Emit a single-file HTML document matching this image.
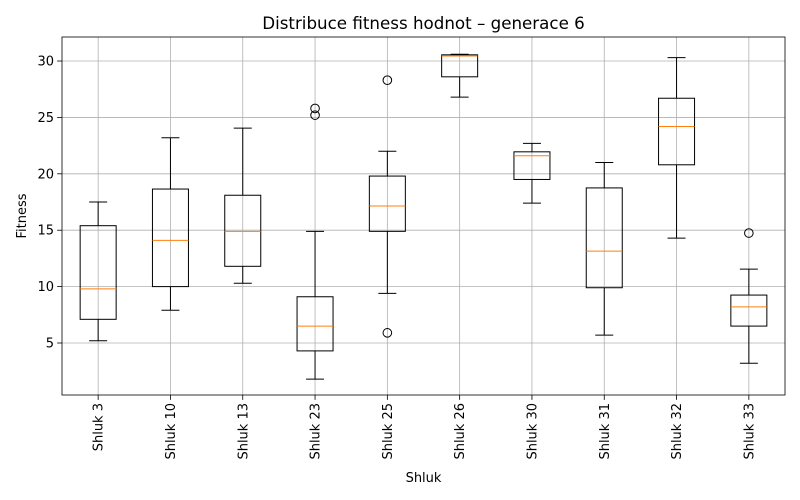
<!DOCTYPE html>
<html><head><meta charset="utf-8"><style>body{margin:0;background:#fff}svg{display:block;font-family:"DejaVu Sans","Liberation Sans",sans-serif}</style></head>
<body>
<svg id="c" width="800" height="500"></svg>
<script>
const categories=["Shluk 3","Shluk 10","Shluk 13","Shluk 23","Shluk 25","Shluk 26","Shluk 30","Shluk 31","Shluk 32","Shluk 33"];
const whiskerLow=[5.2,7.9,10.3,1.8,9.4,26.8,17.4,5.7,14.3,3.2];
const q1=[7.1,10.0,11.8,4.3,14.9,28.6,19.5,9.9,20.8,6.5];
const median=[9.8,14.1,14.9,6.5,17.15,30.45,21.6,13.15,24.2,8.2];
const q3=[15.4,18.65,18.1,9.1,19.8,30.55,21.95,18.75,26.7,9.25];
const whiskerHigh=[17.5,23.2,24.05,14.9,22.0,30.6,22.7,21.0,30.3,11.55];
const outliers=[[],[],[],[25.8,25.2],[28.3,5.9],[],[],[],[],[14.75]];
const yTicks=[5,10,15,20,25,30];
const L=62,R=785,T=37,B=395,ymin=0.39,ymax=32.13;
const svg=document.getElementById('c');const NS='http://www.w3.org/2000/svg';
function X(i){return L+(i+0.5)*(R-L)/categories.length;}
function Y(v){return B-(v-ymin)/(ymax-ymin)*(B-T);}
function el(t,a,p){const e=document.createElementNS(NS,t);for(const k in a)e.setAttribute(k,a[k]);(p||svg).appendChild(e);return e;}
const g=el('g',{});


yTicks.forEach(v=>{const y=Y(v);
 el('line',{x1:L,x2:R,y1:y,y2:y,stroke:'#b0b0b0','stroke-width':0.8},g);
 el('line',{x1:L-4.9,x2:L,y1:y,y2:y,stroke:'#000','stroke-width':0.8});
 const t=el('text',{x:L-8,y:y+4.5,'text-anchor':'end','font-size':13});t.textContent=v;
 
 
});
categories.forEach((c,i)=>{const x=X(i);
 el('line',{x1:x,x2:x,y1:T,y2:B,stroke:'#b0b0b0','stroke-width':0.8},g);
 el('line',{x1:x,x2:x,y1:B,y2:B+4.9,stroke:'#000','stroke-width':0.8});
 const t=el('text',{transform:`translate(${x+4.5},${B+8}) rotate(-90)`,'text-anchor':'end','font-size':13});t.textContent=c;
 
 
 const bx=el('g',{});
 
 
 const hw=18,cw=9;
 el('line',{x1:x,x2:x,y1:Y(whiskerLow[i]),y2:Y(q1[i]),stroke:'#000'},bx);
 el('line',{x1:x,x2:x,y1:Y(q3[i]),y2:Y(whiskerHigh[i]),stroke:'#000'},bx);
 el('line',{x1:x-cw,x2:x+cw,y1:Y(whiskerLow[i]),y2:Y(whiskerLow[i]),stroke:'#000'},bx);
 el('line',{x1:x-cw,x2:x+cw,y1:Y(whiskerHigh[i]),y2:Y(whiskerHigh[i]),stroke:'#000'},bx);
 el('rect',{x:x-hw,y:Y(q3[i]),width:2*hw,height:Y(q1[i])-Y(q3[i]),fill:'none',stroke:'#000'},bx);
 el('line',{x1:x-hw,x2:x+hw,y1:Y(median[i]),y2:Y(median[i]),stroke:'#ff7f0e'},bx);
 outliers[i].forEach(o=>el('circle',{cx:x,cy:Y(o),r:4.3,fill:'none',stroke:'#000'},bx));
});
const f=el('rect',{x:L,y:T,width:R-L,height:B-T,fill:'none',stroke:'#000','stroke-width':0.8});


const tt=el('text',{x:(L+R)/2,y:29,'text-anchor':'middle','font-size':16.7});tt.textContent='Distribuce fitness hodnot – generace 6';


const xl=el('text',{x:(L+R)/2,y:482,'text-anchor':'middle','font-size':13});xl.textContent='Shluk';


const yl=el('text',{transform:`translate(26,${(T+B)/2}) rotate(-90)`,'text-anchor':'middle','font-size':13});yl.textContent='Fitness';


</script>
</body></html>
